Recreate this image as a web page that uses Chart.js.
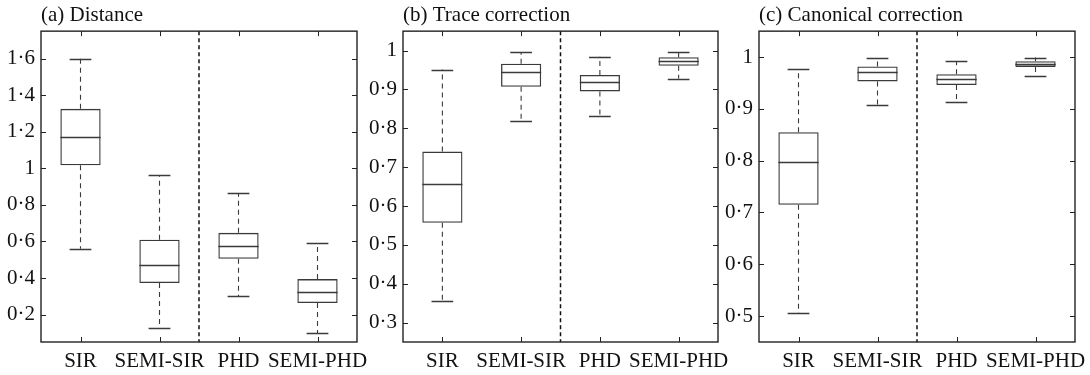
<!DOCTYPE html>
<html>
<head>
<meta charset="utf-8">
<script src="https://cdn.jsdelivr.net/npm/chart.js@4.4.1/dist/chart.umd.min.js"></script>
<style>
  body { margin: 0; background: #fff; }
  #wrap { position: relative; width: 1090px; height: 375px; }
  canvas { position: absolute; left: 0; top: 0; }
</style>
</head>
<body>
<div id="wrap">
  <canvas id="chartA" width="1090" height="375"></canvas>
  <canvas id="chartB" width="1090" height="375"></canvas>
  <canvas id="chartC" width="1090" height="375"></canvas>
</div>
<script>
// categories
const methods = ['SIR', 'SEMI-SIR', 'PHD', 'SEMI-PHD'];

// (a) Distance
const distLow  = [0.560, 0.127, 0.302, 0.097];
const distQ1   = [1.017, 0.372, 0.505, 0.263];
const distMed  = [1.171, 0.473, 0.574, 0.323];
const distQ3   = [1.325, 0.609, 0.647, 0.394];
const distHigh = [1.600, 0.963, 0.863, 0.589];
const distTicks = [0.2, 0.4, 0.6, 0.8, 1, 1.2, 1.4, 1.6];

// (b) Trace correction
const traceLow  = [0.356, 0.819, 0.832, 0.928];
const traceQ1   = [0.557, 0.907, 0.895, 0.961];
const traceMed  = [0.656, 0.945, 0.919, 0.974];
const traceQ3   = [0.740, 0.966, 0.937, 0.983];
const traceHigh = [0.951, 0.996, 0.984, 0.997];
const traceTicks = [0.3, 0.4, 0.5, 0.6, 0.7, 0.8, 0.9, 1];

// (c) Canonical correction
const canonLow  = [0.506, 0.907, 0.913, 0.964];
const canonQ1   = [0.715, 0.953, 0.946, 0.981];
const canonMed  = [0.798, 0.972, 0.958, 0.987];
const canonQ3   = [0.855, 0.982, 0.967, 0.992];
const canonHigh = [0.976, 0.998, 0.992, 0.999];
const canonTicks = [0.5, 0.6, 0.7, 0.8, 0.9, 1];

Chart.defaults.font.family = '"Liberation Serif", "Times New Roman", serif';
Chart.defaults.font.size = 21;
Chart.defaults.color = '#111';

// whiskers, caps, medians, frame, inward ticks and the dashed separator
const boxExtras = {
  id: 'boxExtras',
  afterDatasetsDraw(chart, args, opts) {
    const ctx = chart.ctx;
    const xs = chart.scales.x, ys = chart.scales.y;
    const area = chart.chartArea;
    const bars = chart.getDatasetMeta(0).data;
    ctx.save();

    // whiskers (dashed)
    ctx.strokeStyle = '#3a3a3a';
    ctx.lineWidth = 1.1;
    ctx.setLineDash([5, 4]);
    bars.forEach((bar, i) => {
      ctx.beginPath();
      ctx.moveTo(bar.x, ys.getPixelForValue(opts.q3[i]));
      ctx.lineTo(bar.x, ys.getPixelForValue(opts.high[i]));
      ctx.moveTo(bar.x, ys.getPixelForValue(opts.q1[i]));
      ctx.lineTo(bar.x, ys.getPixelForValue(opts.low[i]));
      ctx.stroke();
    });

    // caps and medians
    ctx.setLineDash([]);
    ctx.lineWidth = 1.3;
    bars.forEach((bar, i) => {
      const capHalf = bar.width * 0.27;
      ctx.beginPath();
      [opts.high[i], opts.low[i]].forEach(v => {
        const y = Math.round(ys.getPixelForValue(v)) + 0.5;
        ctx.moveTo(bar.x - capHalf, y);
        ctx.lineTo(bar.x + capHalf, y);
      });
      const ym = Math.round(ys.getPixelForValue(opts.med[i])) + 0.5;
      ctx.moveTo(bar.x - bar.width / 2, ym);
      ctx.lineTo(bar.x + bar.width / 2, ym);
      ctx.stroke();
    });

    // separator between SIR pair and PHD pair
    const sepX = (xs.getPixelForValue(1) + xs.getPixelForValue(2)) / 2;
    ctx.strokeStyle = '#111';
    ctx.lineWidth = 1.5;
    ctx.setLineDash([4, 3]);
    ctx.beginPath();
    ctx.moveTo(sepX, area.top);
    ctx.lineTo(sepX, area.bottom);
    ctx.stroke();

    // frame
    ctx.setLineDash([]);
    ctx.lineWidth = 1.4;
    ctx.strokeStyle = '#222';
    ctx.strokeRect(area.left, area.top, area.right - area.left, area.bottom - area.top);

    // inward ticks
    const len = 5;
    ctx.lineWidth = 1;
    ctx.beginPath();
    ys.ticks.forEach(t => {
      const y = Math.round(ys.getPixelForValue(t.value)) + 0.5;
      ctx.moveTo(area.left, y); ctx.lineTo(area.left + len, y);
      ctx.moveTo(area.right, y); ctx.lineTo(area.right - len, y);
    });
    methods.forEach((m, i) => {
      const x = Math.round(xs.getPixelForValue(i)) + 0.5;
      ctx.moveTo(x, area.top); ctx.lineTo(x, area.top + len);
      ctx.moveTo(x, area.bottom); ctx.lineTo(x, area.bottom - len);
    });
    ctx.stroke();
    ctx.restore();
  }
};

function makePanel(id, title, low, q1, med, q3, high, ticks, yMin, yMax, padLeft, yWidth, padRight) {
  return new Chart(document.getElementById(id), {
    type: 'bar',
    data: {
      labels: methods,
      datasets: [{
        data: q1.map((v, i) => [v, q3[i]]),
        backgroundColor: 'rgba(0,0,0,0)',
        borderColor: '#3a3a3a',
        borderWidth: 1.3,
        borderSkipped: false,
        barPercentage: 0.51,
        categoryPercentage: 1
      }]
    },
    options: {
      responsive: false,
      animation: false,
      devicePixelRatio: 1,
      layout: { padding: { left: padLeft, right: padRight, top: 0, bottom: 0 } },
      plugins: {
        legend: { display: false },
        tooltip: { enabled: false },
        title: {
          display: true,
          text: title,
          align: 'start',
          fullSize: false,
          color: '#111',
          font: { size: 21, weight: 'normal', lineHeight: 1.15 },
          padding: { top: 3, bottom: 4 }
        },
        boxExtras: { low, q1, med, q3, high }
      },
      scales: {
        x: {
          grid: { display: false, drawTicks: false },
          border: { display: false },
          ticks: { padding: 7, maxRotation: 0, autoSkip: false, color: '#111' },
          afterFit(scale) {
            scale.paddingLeft = 0;
            scale.paddingRight = 0;
            scale.height = 33;
          }
        },
        y: {
          min: yMin,
          max: yMax,
          grid: { display: false, drawTicks: false },
          border: { display: false },
          ticks: {
            padding: 6,
            color: '#111',
            callback: v => String(v).replace('.', '·')
          },
          afterBuildTicks(scale) {
            scale.ticks = ticks.map(v => ({ value: v }));
          },
          afterFit(scale) {
            scale.width = yWidth;
            scale.paddingTop = 0;
            scale.paddingBottom = 0;
          }
        }
      }
    },
    plugins: [boxExtras]
  });
}

makePanel('chartA', '(a) Distance', distLow, distQ1, distMed, distQ3, distHigh, distTicks, 0.05, 1.75, 0, 41, 733);
makePanel('chartB', '(b) Trace correction', traceLow, traceQ1, traceMed, traceQ3, traceHigh, traceTicks, 0.25, 1.05, 362, 41, 372);
makePanel('chartC', '(c) Canonical correction', canonLow, canonQ1, canonMed, canonQ3, canonHigh, canonTicks, 0.45, 1.05, 724, 35, 15);
</script>
</body>
</html>
